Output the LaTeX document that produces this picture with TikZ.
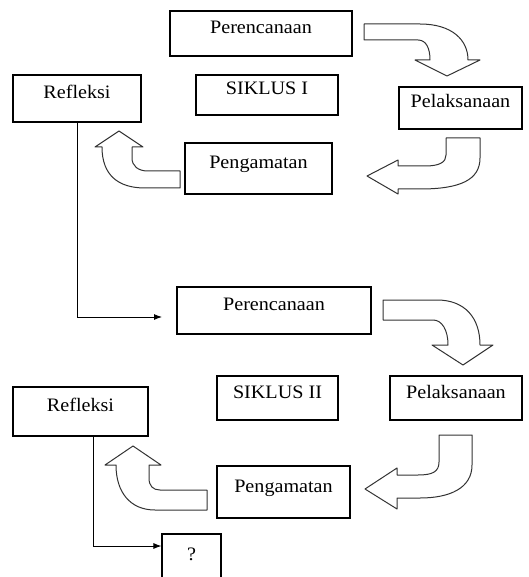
\documentclass[tikz,border=0pt]{standalone}
\usepackage{fontspec}
\setmainfont{Liberation Serif}[FakeStretch=1.06]
\usepackage{tikz}
\usetikzlibrary{arrows,arrows.meta,positioning}
\tikzstyle{state}=[draw, line width=1.1pt, fill=white, align=center, inner sep=2pt, text height=12pt, text depth=12pt]
\tikzstyle{bigarrow}=[draw=black!80, line width=1pt, fill=white, line join=round]

\begin{document}
\begin{tikzpicture}[x=1pt,y=-1pt,>={Latex[length=8pt,width=6pt]},font=\fontsize{19}{22}\selectfont]
\useasboundingbox (0,0) rectangle (528,577);
% siklus I
\node [state, minimum width=182pt, minimum height=45pt] (per1) at (261,33.5) {Perencanaan};
\node [state, minimum width=142pt, minimum height=40pt] (sik1) at (267,95) {SIKLUS I};
\node [state, minimum width=128pt, minimum height=47pt] (ref1) at (77,98.5) {Refleksi};
\node [state, minimum width=123pt, minimum height=42pt] (pel1) at (460.5,108) {Pelaksanaan};
\node [state, minimum width=147pt, minimum height=51pt] (pen1) at (258.5,168.5) {Pengamatan};
% siklus II
\node [state, minimum width=194pt, minimum height=47pt] (per2) at (274,310.5) {Perencanaan};
\node [state, minimum width=121pt, minimum height=44pt] (sik2) at (277.5,398) {SIKLUS II};
\node [state, minimum width=132pt, minimum height=44pt] (pel2) at (456,398) {Pelaksanaan};
\node [state, minimum width=135pt, minimum height=49pt] (ref2) at (80.5,411.5) {Refleksi};
\node [state, minimum width=133pt, minimum height=52pt] (pen2) at (283.5,492) {Pengamatan};
\node [state, minimum width=59pt, minimum height=52pt] (q) at (191.5,560) {?};

% bent arrows, siklus I
\draw [bigarrow] (364,24) -- (420,24) .. controls (452,24) and (468,40) .. (468,60) -- (480,60) -- (447,76) -- (415,60) -- (430,60) .. controls (430,48) and (426,40) .. (418,40) -- (364,40) -- cycle;
\draw [bigarrow] (446,138) -- (480,138) -- (480,158) .. controls (480,180) and (460,189) .. (420,189) -- (398,189) -- (398,194) -- (367,176) -- (398,160) -- (398,166) -- (425,166) .. controls (440,166) and (446,162) .. (446,155) -- cycle;
\draw [bigarrow] (180,171) -- (180,188) -- (145,188) .. controls (118,188) and (102,175) .. (102,147) -- (95,147) -- (119,131) -- (143,147) -- (132,147) -- (132,158) .. controls (132,166) and (138,171) .. (148,171) -- cycle;
% bent arrows, siklus II
\draw [bigarrow] (383,300) -- (437,300) .. controls (465,300) and (480,318) .. (480,345) -- (493,345) -- (463,365) -- (432,345) -- (448,345) .. controls (448,330) and (442,320) .. (433,320) -- (383,320) -- cycle;
\draw [bigarrow] (439,435) -- (472,435) -- (472,465) .. controls (472,488) and (450,498) .. (420,498) -- (397,498) -- (397,509) -- (365,489) -- (397,468) -- (397,475) -- (418,475) .. controls (432,475) and (439,472) .. (439,462) -- cycle;
\draw [bigarrow] (207,490) -- (207,510) -- (155,510) .. controls (130,510) and (116,492) .. (116,465) -- (105,465) -- (133,446) -- (161,465) -- (149,465) -- (149,478) .. controls (149,486) and (153,490) .. (160,490) -- cycle;

% connectors
\coordinate (in2) at (162,317);
\coordinate (inq) at (q.west |- 0,546);
\draw [->, line width=0.9pt] (ref1.south) |- (in2);
\draw [->, line width=0.9pt] ([xshift=13pt]ref2.south) |- (inq);
\end{tikzpicture}
\end{document}
